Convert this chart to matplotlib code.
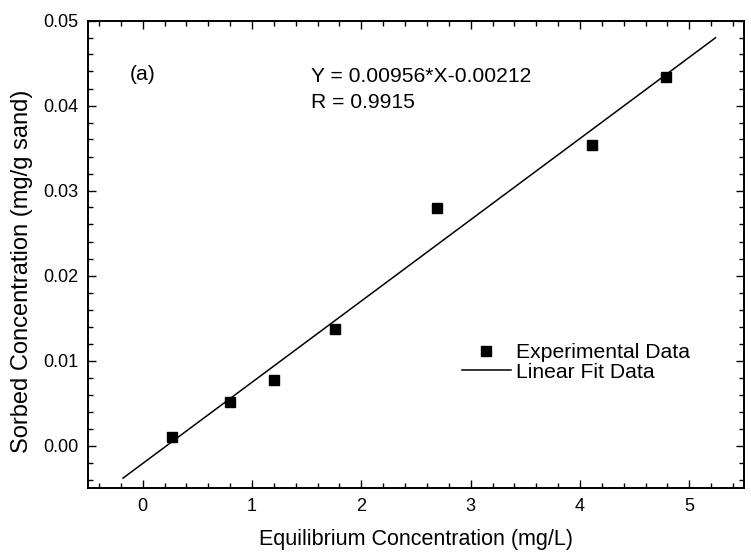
import numpy as np
import matplotlib.pyplot as plt
from matplotlib.ticker import MultipleLocator, FormatStrFormatter

plt.rcParams['font.family'] = ['Liberation Sans', 'DejaVu Sans']

# experimental data
conc_eq = [0.27, 0.80, 1.197, 1.76, 2.69, 4.11, 4.79]
conc_sorbed = [0.00098, 0.00516, 0.0077, 0.01376, 0.0280, 0.03533, 0.0433]

# linear fit
slope = 0.00956
intercept = -0.00212
fit_range = [-0.18, 5.24]

fig = plt.figure(figsize=(7.51, 5.60), dpi=100)
ax = fig.add_axes([88/751, 1-488/560, (744-88)/751, (488-20.5)/560])

fit_x = np.linspace(fit_range[0], fit_range[1], 50)
ax.plot(conc_eq, conc_sorbed, 's', color='black', markersize=6.5, label='Experimental Data')
ax.plot(fit_x, slope*fit_x + intercept, '-', color='black', lw=1.1, label='Linear Fit Data')

ax.set_xlim(-0.5, 5.5)
ax.set_ylim(-0.005, 0.05)
ax.xaxis.set_major_locator(MultipleLocator(1))
ax.xaxis.set_minor_locator(MultipleLocator(0.2))
ax.yaxis.set_major_locator(MultipleLocator(0.01))
ax.yaxis.set_minor_locator(MultipleLocator(0.002))
ax.xaxis.set_major_formatter(FormatStrFormatter('%d'))
ax.yaxis.set_major_formatter(FormatStrFormatter('%.2f'))
ax.tick_params(which='both', direction='in', top=True, right=True, labelsize=13, width=1.0)
ax.tick_params(which='major', length=6, pad=7)
ax.tick_params(which='minor', length=3.5)
for s in ax.spines.values():
    s.set_linewidth(1.4)

ax.set_xlabel('Equilibrium Concentration (mg/L)', fontsize=15.5, labelpad=10)
ax.set_ylabel('Sorbed Concentration (mg/g sand)', fontsize=17)
ax.yaxis.set_label_coords(-0.084, 0.464)

ax.text(130, 560-74, '(a)', transform=None, fontsize=15.2, va='center', ha='left')
ax.text(311, 560-76.5, 'Y = 0.00956*X-0.00212', transform=None, fontsize=15.2, va='center', ha='left')
ax.text(311, 560-103, 'R = 0.9915', transform=None, fontsize=15.2, va='center', ha='left')

ax.legend(loc='upper left', bbox_to_anchor=(462/751, 1-343.5/560), bbox_transform=fig.transFigure,
          frameon=False, fontsize=15.2, handlelength=2.3, handletextpad=0.24,
          labelspacing=0.0, borderpad=0, borderaxespad=0)

fig.savefig('out.png', dpi=100)
